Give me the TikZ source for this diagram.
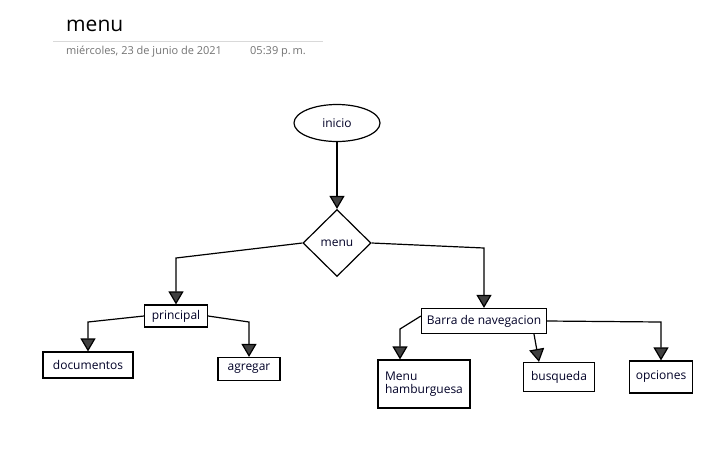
\documentclass[tikz,border=0pt]{standalone}
\usepackage{fontspec}
\setmainfont{Open Sans}
\usetikzlibrary{shapes.geometric,arrows.meta}
\begin{document}
\begin{tikzpicture}[x=1pt,y=-1pt,
  lbl/.style={font=\fontsize{12}{13.5}\selectfont, text=black!85!blue},
  box/.style={lbl, draw, line width=1.2pt, inner sep=0pt, anchor=center},
  arr/.style={line width=1.2pt, -{Triangle[width=15pt,length=13pt,fill=black!75]}},
  meta/.style={anchor=base west, inner sep=0, font=\fontsize{11}{13}\selectfont, text=black!55}]
\useasboundingbox (0,0) rectangle (719,456);
% header
\node[anchor=base west, inner sep=0, font=\fontsize{21}{24}\selectfont] (title) at (66,31) {menu};
\draw[black!15, line width=0.8pt] (53,41) -- (323,41);
\node[meta] (date) at (66,54) {miércoles, 23 de junio de 2021};
\node[meta] (time) at (250,54) {05:39 p.\,m.};
% nodes
\node[lbl, ellipse, draw, line width=1.2pt, minimum width=86pt, minimum height=37pt, inner sep=0] (inicio) at (337,123) {inicio};
\node[lbl, diamond, draw, line width=1.2pt, minimum width=68pt, minimum height=67pt, inner sep=0] (menu) at (337,243) {menu};
\node[box, minimum width=63pt, minimum height=22pt] (principal) at (176,316) {principal};
\node[box, minimum width=90pt, minimum height=26pt] (documentos) at (88,365) {documentos};
\node[box, minimum width=62pt, minimum height=23pt] (agregar) at (249,369) {agregar};
\node[box, minimum width=125pt, minimum height=25pt] (barra) at (484,321) {Barra de navegacion};
\node[box, minimum width=92pt, minimum height=48pt, align=left] (hamb) at (424,384) {Menu\\hamburguesa};
\node[box, minimum width=71pt, minimum height=29pt] (busqueda) at (559,377) {busqueda};
\node[box, minimum width=63pt, minimum height=32pt] (opciones) at (661,377) {opciones};
% connectors
\draw[arr] (inicio.south) -- (menu.north);
\draw[arr] (menu.west) -- (principal.north |- 0,258) -- (principal.north);
\draw[arr] (menu.east) -- (barra.north |- 0,248) -- (barra.north);
\draw[arr] (principal.west) -- (documentos.north |- 0,322) -- (documentos.north);
\draw[arr] (principal.east) -- (agregar.north |- 0,322) -- (agregar.north);
\draw[arr] ([yshift=5pt]barra.west) -- ([xshift=-24pt]hamb.north |- 0,329) -- ([xshift=-24pt]hamb.north);
\draw[arr] ([xshift=50pt]barra.south) -- ([xshift=-20pt]busqueda.north);
\draw[arr] (barra.east) -- (opciones.north |- 0,322) -- (opciones.north);
\end{tikzpicture}
\end{document}
